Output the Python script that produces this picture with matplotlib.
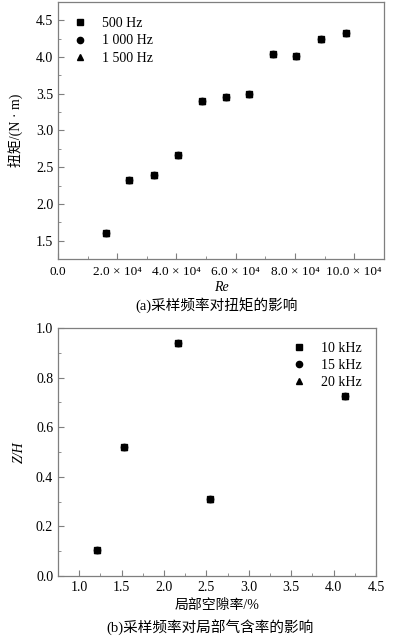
import numpy as np
import matplotlib
matplotlib.use('Agg')
import matplotlib.pyplot as plt
from matplotlib.ticker import MultipleLocator, AutoMinorLocator

plt.rcParams['font.family'] = ['Liberation Serif', 'Noto Sans CJK SC']
plt.rcParams['mathtext.fontset'] = 'stix'

# (a) torque vs Re
re_a = [1.61e4, 2.39e4, 3.25e4, 4.06e4, 4.85e4, 5.66e4, 6.44e4, 7.27e4, 8.05e4, 8.89e4, 9.71e4]
torque_500 = [1.61, 2.32, 2.39, 2.67, 3.40, 3.45, 3.50, 4.04, 4.01, 4.25, 4.33]
torque_1000 = [1.61, 2.32, 2.39, 2.67, 3.40, 3.45, 3.50, 4.04, 4.01, 4.25, 4.33]
torque_1500 = [1.61, 2.32, 2.39, 2.67, 3.40, 3.45, 3.50, 4.04, 4.01, 4.25, 4.33]
labels_a = ['500 Hz', '1 000 Hz', '1 500 Hz']
xticks_a = [0, 2e4, 4e4, 6e4, 8e4, 10e4]
xticklabels_a = ['0.0', '2.0 × 10⁴', '4.0 × 10⁴', '6.0 × 10⁴', '8.0 × 10⁴', '10.0 × 10⁴']

# (b) Z/H vs local void fraction
void_b = [1.21, 1.53, 2.16, 2.54, 4.14]
zh_10 = [0.104, 0.522, 0.938, 0.31, 0.727]
zh_15 = [0.104, 0.522, 0.938, 0.31, 0.727]
zh_20 = [0.104, 0.522, 0.938, 0.31, 0.727]
labels_b = ['10 kHz', '15 kHz', '20 kHz']

markers = ['s', 'o', '^']
fs = 10
spine_c = '#7f7f7f'

fig = plt.figure(figsize=(3.93, 6.4), dpi=100)
ax1 = fig.add_axes([0.1476, 0.5953, 0.829, 0.4016])
ax2 = fig.add_axes([0.1476, 0.1, 0.809, 0.3875])

def style(ax):
    for s in ax.spines.values():
        s.set_color(spine_c)
        s.set_linewidth(0.9)
    ax.tick_params(which='both', direction='in', color=spine_c, labelsize=fs, top=False, right=False)
    ax.tick_params(which='major', length=4)
    ax.tick_params(which='minor', length=2.5)
    ax.xaxis.set_minor_locator(AutoMinorLocator(2))
    ax.yaxis.set_minor_locator(AutoMinorLocator(2))

for ys, m, lab in zip([torque_500, torque_1000, torque_1500], markers, labels_a):
    ax1.plot(re_a, ys, linestyle='none', marker=m, color='black', markersize=4.5, label=lab)
ax1.set_xlim(0, 1.1e5)
ax1.set_ylim(1.25, 4.75)
ax1.set_xticks(xticks_a)
ax1.set_xticklabels(xticklabels_a, fontsize=9.5)
ax1.yaxis.set_major_locator(MultipleLocator(0.5))
style(ax1)
ax1.tick_params(axis='x', pad=5, labelsize=9.5)
ax1.set_xlabel('Re', fontsize=fs, style='italic', labelpad=2)
ax1.set_ylabel('扭矩/(N · m)', fontsize=fs, labelpad=9)
ax1.legend(loc='upper left', frameon=False, fontsize=fs, handlelength=1.0,
           handletextpad=1.1, labelspacing=0.3, borderaxespad=0.5, borderpad=0.6)

for ys, m, lab in zip([zh_10, zh_15, zh_20], markers, labels_b):
    ax2.plot(void_b, ys, linestyle='none', marker=m, color='black', markersize=4.5, label=lab)
ax2.set_xlim(0.75, 4.5)
ax2.set_ylim(0, 1.0)
ax2.xaxis.set_major_locator(MultipleLocator(0.5))
ax2.yaxis.set_major_locator(MultipleLocator(0.2))
style(ax2)
ax2.set_xlabel('局部空隙率/%', fontsize=fs, labelpad=4)
ax2.set_ylabel('Z/H', fontsize=fs, style='italic', labelpad=7)
ax2.legend(loc='upper right', frameon=False, fontsize=fs, handlelength=1.0,
           handletextpad=1.1, labelspacing=0.3, borderaxespad=0.6)

fig.text(0.55, 1 - 305 / 640, '(a)采样频率对扭矩的影响', ha='center', va='center', fontsize=10.5)
fig.text(0.535, 1 - 628 / 640, '(b)采样频率对局部气含率的影响', ha='center', va='center', fontsize=10.5)

fig.savefig('out.png', dpi=100)
